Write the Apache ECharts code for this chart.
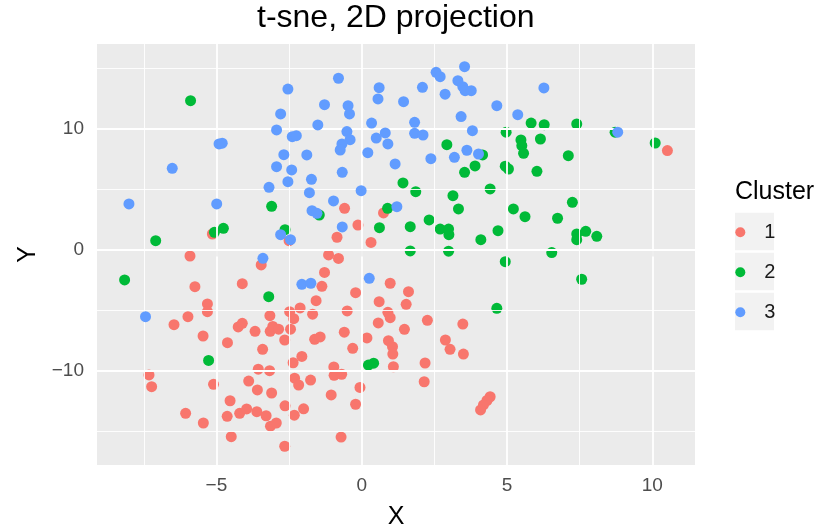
<!DOCTYPE html>
<html>
<head>
<meta charset="utf-8">
<script src="https://cdn.jsdelivr.net/npm/echarts@6/dist/echarts.min.js"></script>
<style>
html,body{margin:0;padding:0;background:#fff;}
#chart{width:833px;height:529px;}
</style>
</head>
<body>
<div id="chart"></div>
<script>
// ---- data ----
var clusterNames = ['1', '2', '3'];
var clusterColors = ['#F8766D', '#00BA38', '#619CFF'];

var xTicks = [-5, 0, 5, 10];
var yTicks = [-10, 0, 10];
var xMinorLines = [-7.5, -2.5, 2.5, 7.5];
var yMinorLines = [-15, -5, 5, 15];

var cluster1 = [
  [-5.14,1.28],[-2.50,0.73],[-5.91,-0.54],[-3.46,-1.28],[-5.74,-3.07],[-4.11,-2.83],[-5.31,-4.50],[-5.31,-5.14],
  [-5.98,-5.55],[-6.46,-6.21],[-3.16,-5.47],[-2.48,-5.14],[-2.34,-5.72],[-4.25,-6.40],[-4.11,-6.10],[-3.67,-6.76],
  [-3.15,-6.76],[-3.06,-6.36],[-2.86,-6.59],[-2.45,-6.59],[-5.46,-7.15],[-4.62,-7.70],[-2.65,-7.48],[-3.41,-8.25],
  [-2.36,-9.36],[-3.56,-9.89],[-3.17,-10.02],[-7.32,-10.37],[-7.23,-11.34],[-5.10,-11.14],[-3.89,-10.87],[-3.59,-11.61],
  [-3.10,-11.86],[-2.31,-10.64],[-2.17,-11.20],[-4.53,-12.50],[-2.64,-12.92],[-6.06,-13.54],[-5.45,-14.34],[-4.63,-13.79],
  [-4.20,-13.54],[-3.96,-13.18],[-3.61,-13.40],[-3.29,-13.74],[-3.14,-14.60],[-2.94,-14.34],[-2.32,-13.69],[-4.49,-15.47],
  [-2.65,-16.26],[-1.14,-0.45],[-0.80,-0.74],[-1.28,-1.90],[-1.37,-3.04],[0.98,-2.79],[-0.21,-3.57],[1.61,-3.49],
  [-1.57,-4.23],[0.60,-4.31],[1.53,-4.53],[-2.12,-4.83],[-1.69,-5.35],[-0.50,-5.08],[0.90,-5.19],[0.98,-5.64],
  [2.26,-5.85],[3.48,-6.16],[0.57,-6.07],[1.47,-6.60],[-0.60,-6.83],[0.18,-7.31],[-1.62,-7.42],[-1.43,-7.23],
  [0.92,-7.54],[1.06,-8.03],[1.07,-8.64],[2.88,-7.48],[3.04,-8.25],[3.50,-8.64],[-0.31,-8.17],[-2.06,-8.84],
  [-0.96,-9.71],[-0.95,-10.40],[-0.69,-10.31],[1.09,-9.69],[2.18,-9.38],[2.15,-10.93],[-1.76,-10.79],[-0.06,-11.40],
  [-1.05,-12.02],[-0.21,-12.79],[-2.00,-13.17],[-0.71,-15.50],[4.42,-12.17],[4.31,-12.48],[4.19,-12.85],[4.09,-13.26],
  [10.52,8.17],[-0.59,3.40],[0.75,3.02],[-0.13,2.02],[0.32,0.58],[-0.85,1.01]
];

var cluster2 = [
  [-5.89,12.30],[-3.10,3.57],[-4.76,1.75],[-5.07,1.42],[-7.09,0.73],[-2.64,1.64],[2.93,8.66],[4.16,7.81],
  [3.90,6.90],[3.54,6.38],[4.42,5.00],[1.42,5.50],[1.86,4.78],[3.14,4.45],[3.33,3.35],[-1.46,2.85],
  [0.89,3.40],[0.61,1.80],[1.67,1.88],[2.32,2.44],[2.70,1.69],[2.99,1.69],[3.00,1.22],[4.10,0.81],
  [4.69,1.55],[1.67,-0.12],[2.99,-0.14],[5.83,10.45],[6.28,10.31],[7.40,10.37],[4.97,9.69],[8.72,9.69],
  [10.10,8.80],[5.48,9.05],[5.51,8.58],[5.57,7.95],[6.15,9.13],[7.11,7.75],[4.94,6.88],[5.05,6.65],
  [6.03,6.46],[7.25,3.90],[5.22,3.35],[5.62,2.71],[6.74,2.58],[7.40,1.28],[7.40,0.81],[7.71,1.50],
  [8.09,1.09],[6.54,-0.26],[4.94,-1.01],[7.57,-2.46],[4.65,-4.86],[-8.16,-2.52],[-3.20,-3.90],[-5.27,-9.17],
  [0.23,-9.55],[0.41,-9.40]
];

var cluster3 = [
  [-2.54,13.26],[-2.79,11.20],[-2.93,9.88],[-2.39,9.32],[-2.25,9.40],[-4.91,8.72],[-4.80,8.78],[-2.68,7.83],
  [-6.52,6.71],[-2.93,6.84],[-2.41,6.57],[-2.54,5.60],[-3.19,5.14],[-8.01,3.76],[-4.99,3.76],[-2.79,1.22],
  [-2.45,0.81],[-0.80,14.15],[0.60,13.37],[0.56,12.44],[-1.28,11.97],[-0.47,11.88],[-0.42,11.20],[1.44,12.21],
  [2.09,13.40],[2.56,14.64],[2.70,14.28],[3.54,15.11],[3.31,13.95],[3.48,13.45],[3.56,13.12],[3.77,13.12],
  [2.87,12.83],[4.65,11.88],[3.42,10.98],[3.81,9.82],[-1.51,10.29],[0.34,10.45],[1.82,10.51],[-0.51,9.74],
  [-0.40,9.07],[-0.68,8.72],[-0.74,8.22],[0.50,9.21],[0.81,9.63],[0.90,8.72],[1.82,9.60],[2.11,9.46],
  [0.21,8.00],[-1.89,7.81],[-0.67,6.38],[1.15,7.07],[2.38,7.50],[3.19,7.62],[3.62,8.20],[4.02,7.89],
  [-1.73,5.80],[-1.80,4.69],[-0.02,4.86],[-0.97,4.01],[-1.71,3.21],[-1.54,2.99],[1.21,3.54],[-0.67,1.86],
  [6.27,13.35],[5.37,11.14],[8.81,9.69],[-3.40,-0.73],[-7.44,-5.55],[-2.06,-2.88],[-1.75,-2.79],[0.26,-2.38]
];

// ---- chart ----
var FONT = '"Liberation Sans", Arial, sans-serif';
var chart = echarts.init(document.getElementById('chart'), null, {renderer: 'canvas'});
var minus = function (v) { return String(v).replace('-', '\u2212'); };

var gridLines = [];
xTicks.forEach(function (v) { gridLines.push({xAxis: v, lineStyle: {width: 1.8}}); });
xMinorLines.forEach(function (v) { gridLines.push({xAxis: v, lineStyle: {width: 0.9}}); });
yTicks.forEach(function (v) { gridLines.push({yAxis: v, lineStyle: {width: 1.8}}); });
yMinorLines.forEach(function (v) { gridLines.push({yAxis: v, lineStyle: {width: 0.9}}); });

var dataSets = [cluster1, cluster2, cluster3];
var seriesList = [{
  type: 'scatter', name: '_grid', data: [], z: 1, silent: true,
  markLine: {
    silent: true, symbol: 'none', animation: false,
    label: {show: false},
    lineStyle: {color: '#ffffff', type: 'solid'},
    emphasis: {disabled: true},
    data: gridLines
  }
}];
var order = [1, 0, 2];
order.forEach(function (i) {
  seriesList.push({
    type: 'scatter', name: clusterNames[i], data: dataSets[i],
    symbol: 'circle', symbolSize: 11, z: 3 + i,
    itemStyle: {color: clusterColors[i], opacity: 1},
    emphasis: {disabled: true}
  });
});

chart.setOption({
  animation: false,
  backgroundColor: '#ffffff',
  title: [{
    text: 't-sne, 2D projection', left: 257, top: 2, padding: 0,
    textStyle: {fontFamily: FONT, fontSize: 32, fontWeight: 'normal', color: '#000000'}
  }, {
    text: 'Cluster', left: 735, top: 180, padding: 0,
    textStyle: {fontFamily: FONT, fontSize: 25, fontWeight: 'normal', color: '#000000'}
  }],
  graphic: [
    {type: 'rect', left: 735, top: 212.7, shape: {width: 39, height: 37.6}, style: {fill: '#F2F2F2'}, z: 0, silent: true},
    {type: 'rect', left: 735, top: 252.7, shape: {width: 39, height: 37.6}, style: {fill: '#F2F2F2'}, z: 0, silent: true},
    {type: 'rect', left: 735, top: 292.7, shape: {width: 39, height: 37.6}, style: {fill: '#F2F2F2'}, z: 0, silent: true}
  ],
  legend: {
    data: clusterNames, orient: 'vertical', left: 735.3, top: 212.3, padding: 0,
    itemGap: 0, itemWidth: 38, itemHeight: 10, icon: 'circle',
    selectedMode: false,
    textStyle: {fontFamily: FONT, fontSize: 20, color: '#1a1a1a', lineHeight: 40}
  },
  grid: {left: 97, right: 138, top: 44, bottom: 64, containLabel: false,
         outerBoundsMode: 'none',
         show: true, backgroundColor: '#EBEBEB', borderWidth: 0},
  xAxis: {
    type: 'value', min: -9.11, max: 11.47,
    name: 'X', nameLocation: 'middle', nameGap: 40,
    nameTextStyle: {fontFamily: FONT, fontSize: 25, color: '#000000'},
    axisLine: {show: false},
    axisTick: {show: true, length: 7, lineStyle: {color: '#333333', width: 1.6}, customValues: xTicks},
    axisLabel: {customValues: xTicks, margin: 11, fontFamily: FONT, fontSize: 19, color: '#4D4D4D', formatter: minus},
    splitLine: {show: false}
  },
  yAxis: {
    type: 'value', min: -17.81, max: 16.98,
    name: 'Y', nameLocation: 'middle', nameGap: 55, nameRotate: 90,
    nameTextStyle: {fontFamily: FONT, fontSize: 25, color: '#000000'},
    axisLine: {show: false},
    axisTick: {show: true, length: 7, lineStyle: {color: '#333333', width: 1.6}, customValues: yTicks},
    axisLabel: {customValues: yTicks, margin: 13, fontFamily: FONT, fontSize: 19, color: '#4D4D4D', formatter: minus},
    splitLine: {show: false}
  },
  series: seriesList
});
</script>
</body>
</html>
